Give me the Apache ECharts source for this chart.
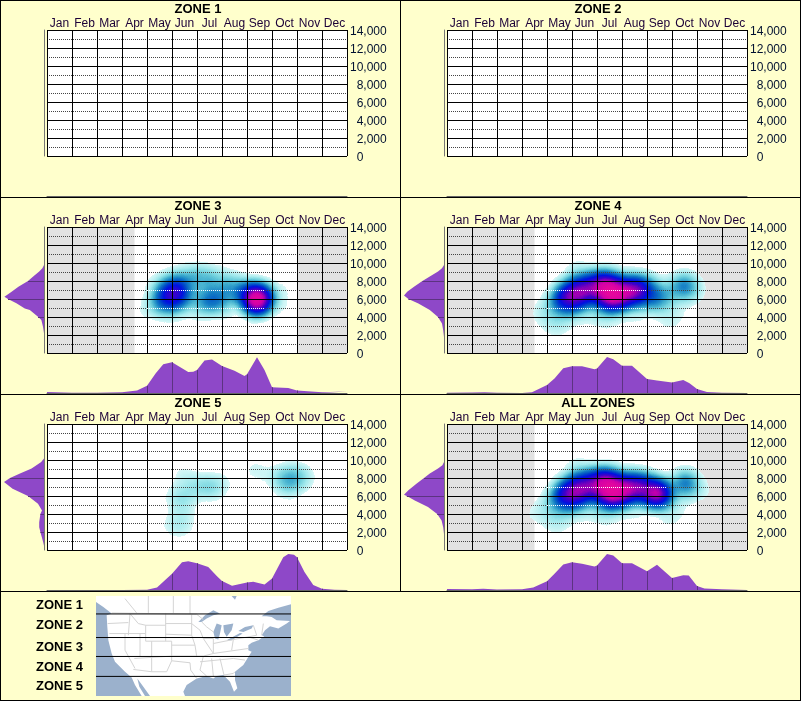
<!DOCTYPE html>
<html><head><meta charset="utf-8">
<style>html,body{margin:0;padding:0;background:#ffffcc}#c{width:801px;height:701px}</style>
<script src="https://cdn.jsdelivr.net/npm/echarts@6/dist/echarts.min.js"></script>
</head><body><div id="c"></div>
<script>
const months=['Jan','Feb','Mar','Apr','May','Jun','Jul','Aug','Sep','Oct','Nov','Dec'];
const zoneTitles=['ZONE 1','ZONE 2','ZONE 3','ZONE 4','ZONE 5','ALL ZONES'];
const legendZones=['ZONE 1','ZONE 2','ZONE 3','ZONE 4','ZONE 5'];
const greyMonths=[[0,3.5],[10,12]];

// seasonal density [month, share of peak]
const zone3Season=[[0,.03],[1,.01],[2,.005],[3,.02],[3.6,.07],[4,.2],[4.35,.55],[4.65,.8],[5,.855],[5.25,.75],[5.65,.58],[5.85,.59],[6,.64],[6.3,.9],[6.6,.93],[7,.75],[7.5,.62],[7.9,.47],[8,.52],[8.4,.99],[8.7,.64],[9,.16],[9.2,.15],[9.65,.14],[10,.07],[11,.02],[12,.04]];
const zone4Season=[[0,.01],[1,.015],[1.5,.02],[2,.005],[3,.003],[3.4,.02],[4,.22],[4.3,.4],[4.65,.69],[5,.745],[5.4,.745],[5.9,.66],[6,.68],[6.4,1],[6.65,.94],[7,.755],[7.4,.755],[8,.39],[8.4,.345],[9,.29],[9.45,.36],[9.7,.27],[10,.11],[10.4,.03],[11,.01],[12,.005]];
const zone5Season=[[0,0],[3,0],[4,.01],[4.4,.07],[5,.45],[5.4,.77],[5.65,.8],[6,.745],[6.45,.64],[6.8,.38],[7,.25],[7.4,.12],[8,.21],[8.25,.23],[8.7,.155],[9,.32],[9.45,.91],[9.65,1],[9.88,.98],[10,.91],[10.3,.5],[10.65,.14],[11,.035],[11.5,.01],[12,0]];
const allSeason=[[0,.025],[1,.02],[1.45,.035],[2,.015],[3,.02],[3.45,.07],[4,.245],[4.3,.45],[4.65,.71],[5,.77],[5.4,.73],[5.9,.65],[6,.68],[6.4,1],[6.65,.96],[7,.745],[7.4,.745],[8,.52],[8.4,.7],[9,.335],[9.45,.41],[9.67,.4],[10,.11],[10.3,.045],[11,.02],[12,.025]];

// altitude density [share of peak, feet]
const zone3Altitude=[[0,9790],[.04,9420],[.12,9050],[.27,8490],[.4,8000],[.64,7370],[.81,6810],[.99,6250],[.9,6000],[.85,5880],[.69,5520],[.48,4950],[.355,4780],[.15,4040],[.15,4000],[.066,3670],[.025,2930],[0,2190]];
const zone4Altitude=[[0,9790],[.05,9420],[.15,9050],[.355,8490],[.54,8000],[.75,7370],[.92,6810],[1,6400],[.89,6000],[.64,5500],[.355,4770],[.15,4000],[.05,3280],[.02,2530],[0,1790]];
const zone5Altitude=[[0,10164],[.07,9790],[.31,9050],[.6,8490],[.85,8000],[1,7560],[.785,6810],[.4,6000],[.15,5140],[.05,4390],[.09,4000],[.12,3090],[.12,2530],[.09,2000],[.07,1790],[.02,860],[0,480]];
const allAltitude=[[0,9790],[.04,9420],[.15,9050],[.355,8490],[.5,8000],[.69,7370],[.89,6630],[1,6140],[.93,6000],[.73,5500],[.4,4770],[.17,4000],[.06,3280],[.02,2530],[0,1790]];

// sighting density [month, feet, weight]
const zone3Heat=[[8.4,5900,1],[8.4,5900,1],[8.4,5900,.8],[8.4,5900,.6],[8.4,5900,.5],[4.7,6200,.45],[5.2,6700,.6],[5.25,6750,.25],[5,6300,.3],[6.6,5800,.5],[4.5,5500,.3],[5,5300,.25],[5.5,5800,.25],[6.2,5700,.3],[7,6000,.3],[7.6,6500,.3],[8.1,6500,.2],[8.7,6500,.15],[4.8,7500,.3],[5.3,8000,.35],[5.9,8400,.35],[6.5,8200,.35],[7.2,7800,.3],[7.8,7200,.25],[8.4,7300,.15],[9.1,6200,.12],[9.5,7500,.07],[9.4,5000,.08],[4,4800,.1],[5,3900,.07],[6,3700,.07],[7.2,4300,.07],[8.3,4000,.08],[3.2,3700,.05],[.25,6450,.05],[10.4,6450,.06],[11.85,6450,.05],[4.2,7800,.07]];
const zone4Heat=[[4.7,6200,.6],[5.1,6500,.6],[5.5,6900,.7],[5.9,7200,.6],[6.35,7500,.9],[6.35,7500,.2],[6.6,6100,.9],[6.6,6100,.2],[6.5,6800,.5],[6.95,6500,.5],[7.3,6900,.7],[7.7,7000,.65],[4.8,6300,.35],[5.2,6600,.35],[5.5,6900,.3],[5.9,7200,.2],[6.3,7600,.5],[6.6,6100,.5],[6.5,7000,.4],[7,6500,.3],[7.3,6900,.45],[7.7,7000,.4],[4.4,5500,.3],[4.9,5200,.3],[5.4,5500,.25],[6,5500,.2],[6.5,5200,.2],[7.2,5500,.25],[7.9,5800,.3],[8.4,5900,.4],[8.7,6500,.25],[5,7800,.25],[5.6,8100,.3],[6.3,8500,.2],[7,8000,.3],[7.8,7800,.2],[8.3,7400,.2],[9.45,7500,.65],[9.3,6000,.1],[9.8,7200,.15],[4.3,3500,.13],[4.4,2900,.1],[5,4000,.12],[6,4000,.13],[6.6,3600,.1],[7.5,3800,.08],[8.8,3700,.13],[9.3,4300,.08],[5.4,9200,.1],[4.9,10100,.04],[3.9,5000,.1],[3.7,4000,.09],[10,6500,.06],[1.4,5700,.06]];
const zone5Heat=[[9.7,7750,.36],[10.1,8300,.2],[9.5,8500,.1],[9.2,7500,.1],[10.4,7800,.08],[6.4,7000,.24],[6.8,7000,.14],[5.4,5500,.2],[5.6,6800,.08],[5,6000,.08],[5.6,4500,.06],[5.3,2700,.15],[4.9,3000,.08],[5.6,3000,.06],[8.25,8850,.11],[8.8,8600,.07],[7.2,7800,.05],[5.4,8500,.11],[5.9,7200,.12],[9.7,6300,.08]];
const allHeat=[[4.7,6200,.6],[5.1,6500,.6],[5.5,6900,.7],[5.9,7100,.6],[6.35,7500,.9],[6.35,7500,.2],[6.6,6100,.9],[6.6,6100,.2],[6.5,6800,.5],[6.95,6500,.5],[7.3,6900,.7],[7.7,7000,.65],[4.8,6300,.35],[5.2,6600,.35],[5.5,6900,.3],[5.9,7100,.2],[6.3,7600,.5],[6.6,6100,.5],[6.5,7000,.4],[7,6500,.3],[7.3,6900,.45],[7.7,7000,.4],[8.4,6250,1],[8.4,6250,1],[8.4,6250,.6],[8.4,6250,.3],[4.4,5500,.3],[4.9,5200,.3],[5.4,5500,.25],[6,5500,.2],[6.5,5200,.2],[7.2,5500,.25],[7.9,5800,.25],[8.7,6000,.15],[5,7800,.25],[5.6,8100,.3],[6.3,8500,.2],[7,8000,.3],[7.8,7800,.2],[8.3,7400,.2],[9.5,7500,.8],[9.3,6000,.12],[9.8,7200,.15],[4.3,3500,.13],[4.4,2900,.1],[5,4000,.12],[6,4000,.13],[6.6,3600,.1],[7.5,3800,.08],[8.8,3700,.13],[9.3,4300,.08],[5.4,9200,.1],[4.9,10100,.04],[3.9,5000,.1],[3.7,4000,.09],[10,6500,.06],[1.4,5700,.06],[.25,6450,.05],[11.85,6450,.04],[10.4,6450,.06],[3.2,3700,.05]];

// [feet, from month, to month] stretches where the dotted guide reads white
const zone3Bright=[[7000,4,8.7],[5000,4,8.7]];
const zone4Bright=[[7000,4,8],[5000,4,8]];
const allBright=[[7000,4,8.8],[5000,4,8.8]];

const heatColours=['rgba(255,255,255,0)','rgba(205,245,245,.65)','rgba(160,232,236,.92)','#70d0dc','#3aa8cc','#1078c4','#0048c8','#0010e0','#4000c8','#d000a8','#ff1090'];

const panels=[
 {x:0,y:0},{x:400,y:0},
 {x:0,y:197,heat:zone3Heat,season:zone3Season,altitude:zone3Altitude,grey:greyMonths,bright:zone3Bright},
 {x:400,y:197,heat:zone4Heat,season:zone4Season,altitude:zone4Altitude,grey:greyMonths,bright:zone4Bright},
 {x:0,y:394,heat:zone5Heat,season:zone5Season,altitude:zone5Altitude},
 {x:400,y:394,heat:allHeat,season:allSeason,altitude:allAltitude,grey:greyMonths,bright:allBright}
];

// Little reference map, drawn through a geo component (picture units)
const mapOcean=[[288,17],[873,17],[873,318],[288,318]];
const mapLand=[[288,17],[695,17],[705,28],[710,17],[873,17],[873,42],[835,52],[805,62],[785,78],[800,78],[815,80],[830,90],[870,92],[860,100],[835,115],[810,108],[795,120],[785,135],[793,138],[775,150],[755,158],[745,165],[745,180],[755,185],[742,205],[730,225],[705,245],[705,270],[712,295],[702,305],[690,275],[670,255],[650,258],[640,265],[620,258],[590,265],[560,285],[550,305],[555,318],[450,318],[430,290],[412,265],[418,290],[435,318],[425,318],[405,285],[395,262],[375,245],[345,215],[335,190],[325,150],[322,110],[320,75],[335,70],[310,50],[288,35]];
const mapLakes=[
 [[595,95],[615,75],[640,60],[660,70],[640,75],[620,85],[605,95]],
 [[650,100],[665,105],[660,130],[655,148],[645,145],[640,125]],
 [[670,105],[700,100],[695,120],[680,140],[672,125]],
 [[680,150],[720,128],[728,130],[695,150]],
 [[715,122],[735,110],[760,105],[755,115],[730,125]]
];
const mapBorders=[
 [[335,68],[590,72],[610,88]],[[445,17],[445,68]],[[520,17],[520,68]],[[570,17],[570,72]],[[375,25],[410,68]],
 [[323,100],[385,97]],[[390,70],[385,135]],[[390,70],[415,100],[437,105],[497,105]],[[497,68],[497,153]],[[497,100],[575,100]],
 [[437,105],[437,153],[515,153]],[[497,132],[575,135],[585,165]],[[328,130],[437,130]],[[375,130],[375,180],[405,235]],[[420,130],[420,200]],
 [[455,153],[455,245]],[[515,153],[515,198]],[[403,205],[515,198]],[[515,165],[585,165]],[[585,165],[590,198]],[[515,198],[610,198]],
 [[515,198],[515,212],[570,218],[572,240],[590,265]],[[455,245],[500,245],[515,212]],[[400,238],[455,245]],
 [[575,72],[575,135]],[[575,100],[600,120],[610,145],[640,190],[610,198],[600,240],[620,258]],[[610,145],[640,145]],[[640,145],[640,190]],
 [[640,160],[700,148]],[[640,190],[745,175]],[[600,215],[700,205],[735,210]],[[635,205],[640,258]],[[660,205],[672,255]],[[672,255],[700,250],[705,245]],
 [[700,148],[695,180]],[[700,148],[745,140]],[[745,140],[770,135]],[[760,105],[770,135]],[[775,150],[745,140]],[[790,100],[785,135]],[[605,95],[620,110],[640,125]]
];
const mapZoneLines=[[[288,71],[873,71]],[[288,142],[873,142]],[[288,199],[873,199]],[[288,259],[873,259]]];
const flip=pts=>pts.map(p=>[p[0],-p[1]]);

const boxMap={type:'FeatureCollection',features:[{type:'Feature',properties:{name:'box'},geometry:{type:'Polygon',coordinates:[[[0,0],[12,0],[12,14000],[0,14000],[0,0]]]}}]};
const usaMap={type:'FeatureCollection',features:[
 {type:'Feature',properties:{name:'ocean'},geometry:{type:'Polygon',coordinates:[flip(mapOcean)]}},
 {type:'Feature',properties:{name:'land'},geometry:{type:'Polygon',coordinates:[flip(mapLand)]}},
 {type:'Feature',properties:{name:'lakes'},geometry:{type:'MultiPolygon',coordinates:mapLakes.map(l=>[flip(l)])}},
 {type:'Feature',properties:{name:'borders'},geometry:{type:'MultiLineString',coordinates:mapBorders.map(flip)}},
 {type:'Feature',properties:{name:'zones'},geometry:{type:'MultiLineString',coordinates:mapZoneLines.map(flip)}}
]};
echarts.registerMap('box',boxMap);
echarts.registerMap('usa',usaMap);

const fontFamily='"Liberation Sans",Arial,sans-serif';
const grid=[],xAxis=[],yAxis=[],series=[],title=[],graphic=[],geo=[];
const heatIdx=[];

function bandItem(params,api){
 const a=api.coord([api.value(0),14000]),b=api.coord([api.value(1),0]);
 return {type:'rect',shape:{x:a[0],y:a[1],width:b[0]-a[0],height:b[1]-a[1]},style:{fill:'#e2e2e2'}};
}
function brightItem(params,api){
 const a=api.coord([api.value(0),api.value(1)]),b=api.coord([api.value(2),api.value(1)]);
 const y=Math.round(a[1])+.5;
 return {type:'line',shape:{x1:a[0],y1:y,x2:b[0],y2:y},style:{stroke:'#fff',lineWidth:1,lineDash:[1,1]}};
}
function seasonTick(params,api){
 const a=api.coord([api.value(0),0]),b=api.coord([api.value(0),api.value(1)]);
 const x=Math.round(a[0])+.5;
 return {type:'line',shape:{x1:x,y1:a[1],x2:x,y2:b[1]},style:{stroke:'#5c3380',lineWidth:1}};
}
function altitudeTick(params,api){
 const a=api.coord([0,api.value(1)]),b=api.coord([api.value(0),api.value(1)]);
 const y=Math.round(a[1])+.5;
 return {type:'line',shape:{x1:a[0],y1:y,x2:b[0],y2:y},style:{stroke:'#5c3380',lineWidth:1}};
}

panels.forEach((p,i)=>{
 title.push({text:zoneTitles[i],left:p.x+198,top:p.y+2,textAlign:'center',padding:0,textStyle:{fontSize:13,fontWeight:'bold',color:'#000',fontFamily,lineHeight:15}});
 // main chart
 const g=grid.length;
 grid.push({left:p.x+47,top:p.y+30,width:300,height:126,show:true,backgroundColor:'#fff',borderWidth:0,containLabel:false});
 const xMonth=xAxis.length;
 xAxis.push({gridIndex:g,type:'category',data:months,position:'top',z:5,axisLine:{show:false},axisTick:{show:false},
  axisLabel:{interval:0,margin:0,fontSize:12,color:'#1c0038',fontFamily},
  splitLine:{show:true,interval:0,lineStyle:{color:'#000',width:1}}});
 const xVal=xAxis.length;
 xAxis.push({gridIndex:g,type:'value',min:0,max:12,show:false,position:'bottom'});
 const yMain=yAxis.length;
 yAxis.push({gridIndex:g,type:'value',min:0,max:14000,interval:2000,position:'right',z:5,axisLine:{show:false},axisTick:{show:false},
  minorTick:{show:false,splitNumber:2},
  minorSplitLine:{show:true,lineStyle:{color:'#444',width:1,type:[1,1]}},
  splitLine:{show:true,lineStyle:{color:'#000',width:1}},
  axisLabel:{margin:3,align:'left',verticalAlign:'top',lineHeight:4,fontSize:12,color:'#001030',fontFamily,
   formatter:v=>{const s=Number(v).toLocaleString('en-US');return v<10000?'  '+s:s;}}});
 if(p.grey) series.push({type:'custom',xAxisIndex:xVal,yAxisIndex:yMain,z:1,silent:true,clip:true,renderItem:bandItem,data:p.grey,encode:{x:[0,1]}});
 if(p.heat){
  geo.push({map:'box',left:p.x+47,top:p.y+30,width:300,height:126,silent:true,roam:false,z:1,label:{show:false},
   itemStyle:{areaColor:'rgba(0,0,0,0)',borderColor:'rgba(0,0,0,0)',borderWidth:0},emphasis:{disabled:true},select:{disabled:true}});
  heatIdx.push(series.length);
  series.push({type:'heatmap',coordinateSystem:'geo',geoIndex:geo.length-1,z:2,silent:true,pointSize:9,blurSize:17,minOpacity:1,maxOpacity:1,data:p.heat});
 }
 if(p.bright) series.push({type:'custom',xAxisIndex:xVal,yAxisIndex:yMain,z:6,silent:true,renderItem:brightItem,
   data:p.bright.map(b=>[b[1],b[0],b[2]]),encode:{x:[0,2],y:1}});
 // seasonal density below
 const gs=grid.length;
 grid.push({left:p.x+47,top:p.y+160,width:300,height:36});
 const xs=xAxis.length;
 xAxis.push({gridIndex:gs,type:'value',min:0,max:12,interval:1,position:'bottom',axisLine:{show:true,onZero:false,lineStyle:{color:'#666',width:1}},axisTick:{show:false},axisLabel:{show:false},splitLine:{show:false}});
 const ys=yAxis.length;
 yAxis.push({gridIndex:gs,type:'value',min:0,max:1,show:false});
 if(p.season){
  series.push({type:'line',xAxisIndex:xs,yAxisIndex:ys,z:3,silent:true,symbol:'none',lineStyle:{width:0},areaStyle:{color:'#8e48c8',opacity:1},data:p.season});
  series.push({type:'custom',xAxisIndex:xs,yAxisIndex:ys,z:4,silent:true,renderItem:seasonTick,
   data:p.season.filter(d=>Number.isInteger(d[0])&&d[1]>.03&&d[0]>0&&d[0]<12)});
 }
 // altitude density at left
 const gl=grid.length;
 grid.push({left:p.x+4,top:p.y+30,width:40,height:126});
 const xl=xAxis.length;
 xAxis.push({gridIndex:gl,type:'value',min:0,max:1,inverse:true,show:false});
 const yl=yAxis.length;
 yAxis.push({gridIndex:gl,type:'time',min:0,max:14000,position:'right',axisLine:{show:true,onZero:false,lineStyle:{color:'#777',width:1}},axisTick:{show:false},axisLabel:{show:false},splitLine:{show:false},minorSplitLine:{show:false}});
 if(p.altitude){
  series.push({type:'line',xAxisIndex:xl,yAxisIndex:yl,z:3,silent:true,symbol:'none',lineStyle:{width:0},areaStyle:{color:'#8e48c8',opacity:1},data:p.altitude});
  series.push({type:'custom',xAxisIndex:xl,yAxisIndex:yl,z:4,silent:true,renderItem:altitudeTick,
   data:p.altitude.filter(d=>d[1]%2000===0&&d[0]>0)});
 }
});

geo.push({map:'usa',left:96,top:596,width:195,height:100,silent:true,roam:false,z:1,label:{show:false},
 itemStyle:{areaColor:'#fff',borderWidth:0,borderColor:'rgba(0,0,0,0)'},emphasis:{disabled:true},select:{disabled:true},
 regions:[
  {name:'ocean',itemStyle:{areaColor:'#9bb1cc',borderWidth:0}},
  {name:'land',itemStyle:{areaColor:'#fff',borderColor:'#c8c8c8',borderWidth:0}},
  {name:'lakes',itemStyle:{areaColor:'#9bb1cc',borderWidth:0}},
  {name:'borders',itemStyle:{borderColor:'#d4d4d4',borderWidth:1}},
  {name:'zones',itemStyle:{borderColor:'#000',borderWidth:1}}
 ]});

// panel frame
[[0,0,801,1],[0,197,801,1],[0,394,801,1],[0,591,801,1],[0,700,801,1],[0,0,1,701],[400,0,1,591],[800,0,1,701]].forEach(r=>{
 graphic.push({type:'rect',z:20,silent:true,shape:{x:r[0],y:r[1],width:r[2],height:r[3]},style:{fill:'#000'}});
});
const legendY=[605,625,647,667,686];
legendZones.forEach((t,i)=>{
 graphic.push({type:'text',z:20,silent:true,x:36,y:legendY[i],style:{text:t,fill:'#000',font:'bold 13px '+fontFamily,verticalAlign:'middle'}});
});

const chart=echarts.init(document.getElementById('c'),null,{renderer:'canvas',width:801,height:701});
chart.setOption({animation:false,backgroundColor:'#ffffcc',title,grid,xAxis,yAxis,geo,series,graphic,tooltip:{show:false},
 visualMap:{show:false,type:'continuous',min:0,max:.55,seriesIndex:heatIdx,inRange:{color:heatColours}}});
</script></body></html>
